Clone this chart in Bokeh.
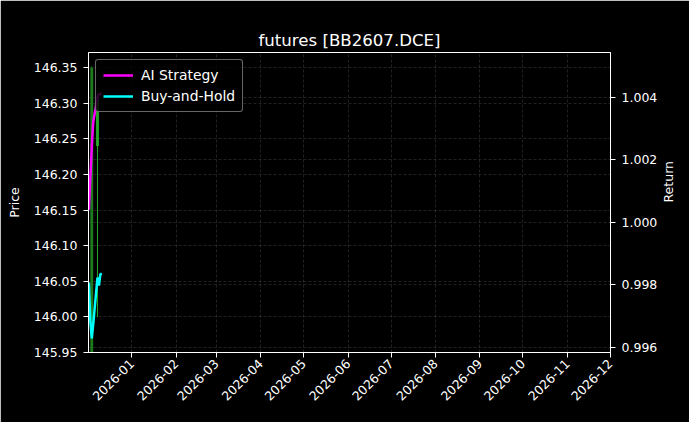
import pandas as pd
from math import pi
from bokeh.plotting import figure
from bokeh.models import (Range1d, LinearAxis, FixedTicker, NumeralTickFormatter,
                          DatetimeTickFormatter, Grid, Legend, LegendItem, ColumnDataSource,
                          Title)
from bokeh.embed import file_html
from bokeh.resources import INLINE

# ---------------- data ----------------
title_text = "futures [BB2607.DCE]"

line_dates = ["2025-12-02", "2025-12-03", "2025-12-04", "2025-12-05",
              "2025-12-08", "2025-12-09", "2025-12-10", "2025-12-11"]
ai_strategy = [1.0004, 1.0014, 1.0024, 1.0032, 1.0040, 1.0041, 1.0041, 1.0041]
buy_hold = [0.99807, 0.99685, 0.99628, 0.99673, 0.99823, 0.99797, 0.99833, 0.99836]

candle_dates = ["2025-12-04", "2025-12-08"]
candle_open = [145.95, 146.24]
candle_high = [146.352, 146.31]
candle_low = [145.95, 146.00]
candle_close = [146.35, 146.31]
candle_colors = ["#1c7a1c", "#26a826"]

month_ticks = ["2026-01", "2026-02", "2026-03", "2026-04", "2026-05", "2026-06",
               "2026-07", "2026-08", "2026-09", "2026-10", "2026-11", "2026-12"]
price_ticks = [145.95, 146.00, 146.05, 146.10, 146.15, 146.20, 146.25, 146.30, 146.35]
return_ticks = [0.996, 0.998, 1.000, 1.002, 1.004]

x_start, x_end = "2025-12-01 17:30", "2026-12-01 03:20"
price_range = (145.95, 146.3715)
return_range = (0.99583, 1.00543)

FONT = "DejaVu Sans"

# ---------------- figure ----------------
p = figure(x_axis_type="datetime", output_backend="svg", toolbar_location=None,
           frame_width=522, frame_height=300,
           min_border_left=88, min_border_right=79, min_border_top=52, min_border_bottom=70,
           x_range=Range1d(pd.Timestamp(x_start), pd.Timestamp(x_end)),
           y_range=Range1d(*price_range))
p.extra_y_ranges = {"ret": Range1d(*return_range)}

p.background_fill_color = "black"
p.border_fill_color = "black"
p.outline_line_color = "white"
p.outline_line_width = 1

# the built-in title would sit right on the frame; drop it and stack our own
try:
    p.title = None
except Exception:
    p.title.text = ""

# grids
for g in (p.xgrid, p.ygrid):
    g.grid_line_color = "white"
    g.grid_line_alpha = 0.22
    g.grid_line_width = 0.6
    g.grid_line_dash = "3 2"

# candles
cs = ColumnDataSource(dict(
    x=pd.to_datetime(candle_dates),
    top=[max(o, c) for o, c in zip(candle_open, candle_close)],
    bottom=[min(o, c) for o, c in zip(candle_open, candle_close)],
    high=candle_high, low=candle_low, color=candle_colors))
p.segment(x0="x", x1="x", y0="low", y1="high", source=cs, line_color="color", line_width=1)
p.vbar(x="x", top="top", bottom="bottom", width=2 * 86400000, source=cs,
       fill_color="color", line_color=None)

# return lines
ld = pd.to_datetime(line_dates)
r1 = p.line(ld, ai_strategy, y_range_name="ret", line_color="#ff00ff", line_width=2.5)
r2 = p.line(ld, buy_hold, y_range_name="ret", line_color="#00ffff", line_width=2.5)

# axes
def style_axis(ax, size="12.5px"):
    ax.axis_line_color = "white"
    ax.major_tick_line_color = "white"
    ax.minor_tick_line_color = None
    ax.major_tick_out = 5
    ax.major_tick_in = 0
    ax.major_label_text_color = "white"
    ax.major_label_text_font = FONT
    ax.major_label_text_font_size = size
    ax.axis_label_text_color = "white"
    ax.axis_label_text_font = FONT
    ax.axis_label_text_font_size = "12.5px"
    ax.axis_label_text_font_style = "normal"

xa = p.below[0]
style_axis(xa)
xa.ticker = FixedTicker(ticks=[pd.Timestamp(m).value // 10**6 for m in month_ticks])
fmt = "%Y-%m"
xa.formatter = DatetimeTickFormatter(years=fmt, months=fmt, days=fmt, hours=fmt,
                                     hourmin=fmt, minutes=fmt, minsec=fmt, seconds=fmt,
                                     milliseconds=fmt, microseconds=fmt)
xa.major_label_orientation = pi / 4
xa.major_label_standoff = 4
p.xgrid.ticker = xa.ticker

ya = p.left[0]
style_axis(ya)
ya.ticker = FixedTicker(ticks=price_ticks)
ya.formatter = NumeralTickFormatter(format="0.00")
ya.axis_label = "Price"
ya.major_label_standoff = 6
ya.axis_label_standoff = 9

ra = LinearAxis(y_range_name="ret", axis_label="Return")
style_axis(ra)
ra.ticker = FixedTicker(ticks=return_ticks)
ra.formatter = NumeralTickFormatter(format="0.000")
ra.major_label_standoff = 6
ra.axis_label_standoff = 8
if "axis_label_orientation" in ra.properties():
    ra.axis_label_orientation = pi / 2
p.add_layout(ra, "right")

g2 = Grid(dimension=1, ticker=ra.ticker, y_range_name="ret",
          grid_line_color="white", grid_line_alpha=0.22, grid_line_width=0.6,
          grid_line_dash="3 2")
p.add_layout(g2)

# invisible spacer next to the frame (no ticks, no text), then the title above it
spacer = LinearAxis(ticker=FixedTicker(ticks=[]), axis_line_color=None,
                    major_tick_line_color=None, minor_tick_line_color=None,
                    major_tick_out=20, major_tick_in=0, minor_tick_out=0,
                    major_label_standoff=0)
p.add_layout(spacer, "above")

title = Title(text=title_text, align="center", vertical_align="top", standoff=2,
              text_color="white", text_font=FONT, text_font_size="16.6px",
              text_font_style="normal")
p.add_layout(title, "above")

legend = Legend(items=[LegendItem(label="AI Strategy", renderers=[r1]),
                       LegendItem(label="Buy-and-Hold", renderers=[r2])],
                location="top_left", margin=7, padding=7, spacing=5,
                glyph_width=30, glyph_height=16, label_height=16, label_standoff=8,
                label_text_font=FONT, label_text_font_size="13.9px",
                label_text_color="white", background_fill_color="black",
                background_fill_alpha=0.8, border_line_color="#cccccc",
                border_line_width=1, border_radius=3)
p.add_layout(legend)

open("out.html", "w").write(file_html(p, INLINE))
